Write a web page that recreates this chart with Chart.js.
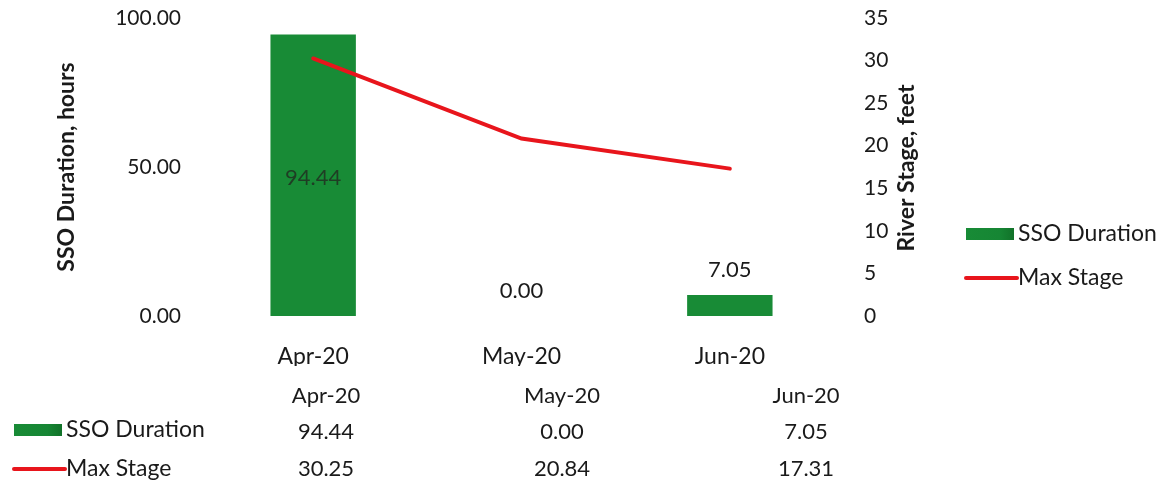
<!DOCTYPE html>
<html>
<head>
<meta charset="utf-8">
<script src="https://cdn.jsdelivr.net/npm/chart.js@4/dist/chart.umd.min.js"></script>
<style>
html,body{margin:0;padding:0;background:#fff;}
#wrap{position:relative;width:1161px;height:484px;}
</style>
</head>
<body>
<div id="wrap"><canvas id="c" width="1161" height="484"></canvas></div>
<script>
const categories = ['Apr-20', 'May-20', 'Jun-20'];
const ssoDuration = [94.44, 0.00, 7.05];
const maxStage = [30.25, 20.84, 17.31];
const leftTicks = [0, 50, 100];
const seriesNames = ['SSO Duration', 'Max Stage'];
const leftTitle = 'SSO Duration, hours';
const rightTitle = 'River Stage, feet';

const FONT = 'Lato, "Open Sans", sans-serif';
const GREEN = '#188b36', GREEN_D = '#117229', RED = '#e8151c', TXT = '#1a1a1a';

function greenFill(ctx, x0, x1) {
  if (!Number.isFinite(x0) || !Number.isFinite(x1) || x1 <= x0) return GREEN;
  const g = ctx.createLinearGradient(x0, 0, x1, 0);
  g.addColorStop(0, GREEN);
  g.addColorStop(0.7, '#168634');
  g.addColorStop(1, GREEN_D);
  return g;
}

const extras = {
  id: 'extras',
  afterDatasetsDraw(chart) {
    const ctx = chart.ctx;
    const meta = chart.getDatasetMeta(1);
    ctx.save();
    ctx.font = '22px ' + FONT;
    ctx.textAlign = 'center';
    ctx.textBaseline = 'middle';
    meta.data.forEach((el, i) => {
      const v = ssoDuration[i];
      const txt = v.toFixed(2);
      if (v > 50) {
        ctx.fillStyle = '#1f3d24';
        ctx.fillText(txt, el.x, (el.y + el.base) / 2 + 3);
      } else {
        ctx.fillStyle = TXT;
        ctx.fillText(txt, el.x, el.y - 25);
      }
    });
    ctx.restore();
  },
  afterDraw(chart) {
    const ctx = chart.ctx;
    ctx.save();
    ctx.font = 'bold 23px ' + FONT;
    ctx.fillStyle = TXT;
    ctx.textAlign = 'center';
    ctx.textBaseline = 'middle';
    ctx.translate(907, 168);
    ctx.rotate(-Math.PI / 2);
    ctx.fillText(rightTitle, 0, 0);
    ctx.restore();

    function legendItem(x, y, idx) {
      if (idx === 0) {
        ctx.fillStyle = greenFill(ctx, x, x + 48);
        ctx.fillRect(x, y - 6, 48, 12);
      } else {
        ctx.strokeStyle = RED;
        ctx.lineWidth = 4;
        ctx.lineCap = 'round';
        ctx.beginPath();
        ctx.moveTo(x, y);
        ctx.lineTo(x + 51, y);
        ctx.stroke();
      }
      ctx.fillStyle = TXT;
      ctx.textAlign = 'left';
      ctx.textBaseline = 'middle';
      ctx.font = '23px ' + FONT;
      ctx.fillText(seriesNames[idx], x + 52, y);
    }
    ctx.save();
    legendItem(966, 234, 0);
    legendItem(966, 278, 1);
    ctx.restore();

    ctx.save();
    const colX = [326, 562, 806];
    ctx.font = '22px ' + FONT;
    ctx.fillStyle = TXT;
    ctx.textAlign = 'center';
    ctx.textBaseline = 'middle';
    categories.forEach((c, i) => ctx.fillText(c, colX[i], 396));
    legendItem(14, 430, 0);
    legendItem(14, 469, 1);
    ctx.font = '22px ' + FONT;
    ctx.textAlign = 'center';
    ctx.fillStyle = TXT;
    ssoDuration.forEach((v, i) => ctx.fillText(v.toFixed(2), colX[i], 432));
    maxStage.forEach((v, i) => ctx.fillText(v.toFixed(2), colX[i], 469));
    ctx.restore();
  }
};

new Chart(document.getElementById('c'), {
  data: {
    labels: categories,
    datasets: [
      {
        type: 'line',
        label: seriesNames[1],
        data: maxStage,
        yAxisID: 'y1',
        borderColor: RED,
        borderWidth: 4,
        borderCapStyle: 'round',
        pointRadius: 0,
        tension: 0,
        order: 0
      },
      {
        type: 'bar',
        label: seriesNames[0],
        data: ssoDuration,
        yAxisID: 'y',
        backgroundColor: GREEN,
        borderWidth: 0,
        categoryPercentage: 1,
        barPercentage: 0.41,
        order: 1
      }
    ]
  },
  options: {
    responsive: false,
    animation: false,
    layout: { padding: { left: 0, right: 207, top: 18, bottom: 118 } },
    plugins: { legend: { display: false }, tooltip: { enabled: false } },
    scales: {
      x: {
        grid: { display: false },
        border: { display: false },
        ticks: { color: TXT, font: { family: FONT, size: 23 }, padding: 19 },
        afterFit: (s) => { s.height = 50; }
      },
      y: {
        position: 'left',
        min: 0, max: 100,
        afterBuildTicks: (s) => { s.ticks = leftTicks.map(v => ({ value: v })); },
        grid: { display: false },
        border: { display: false },
        ticks: { color: TXT, font: { family: FONT, size: 21 }, padding: 20, callback: (v) => Number(v).toFixed(2) },
        title: { display: true, text: leftTitle, color: TXT, font: { family: FONT, size: 23, weight: 'bold' }, padding: { top: 53, bottom: 0 } },
        afterFit: (s) => { s.width = 209; s.paddingTop = 0; s.paddingBottom = 0; }
      },
      y1: {
        position: 'right',
        min: 0, max: 35,
        grid: { display: false },
        border: { display: false },
        ticks: { stepSize: 5, color: TXT, font: { family: FONT, size: 21 }, padding: 22 },
        afterFit: (s) => { s.width = 120; s.paddingTop = 0; s.paddingBottom = 0; }
      }
    }
  },
  plugins: [extras]
});
</script>
</body>
</html>
